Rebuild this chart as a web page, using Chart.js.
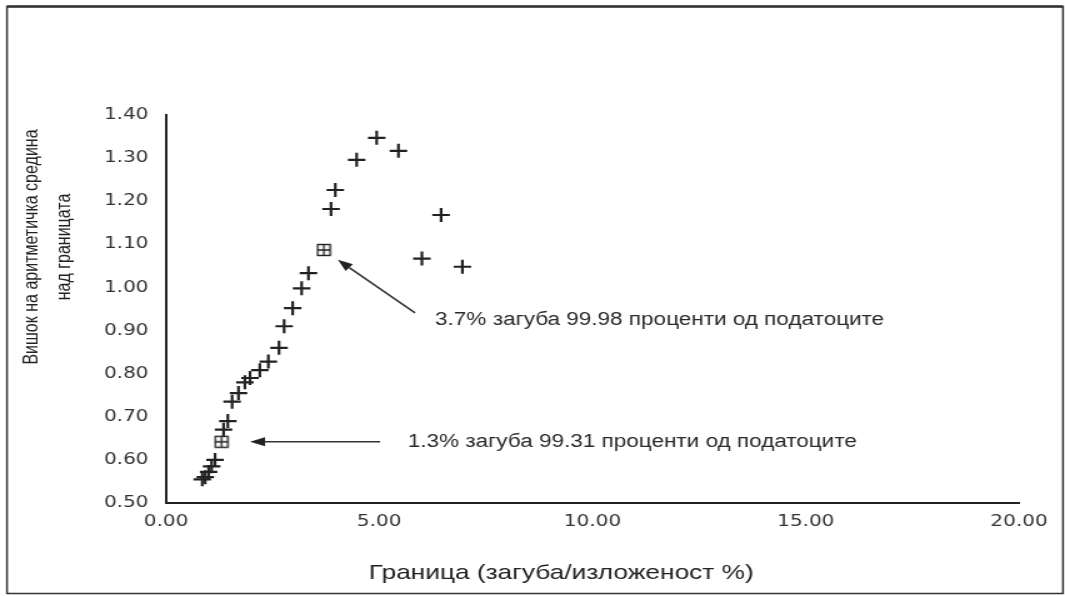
<!DOCTYPE html>
<html>
<head>
<meta charset="utf-8">
<script src="https://cdn.jsdelivr.net/npm/chart.js@4/dist/chart.umd.min.js"></script>
<style>
  html, body { margin: 0; padding: 0; background: #fff; overflow: hidden; }
  #wrap { width: 1065px; height: 596px; position: relative; overflow: hidden; }
  /* the figure is laid out on a narrower canvas and widened to the page */
  #c { position: absolute; left: 0; top: 0; transform-origin: 0 0; transform: scaleX(1.25); }
</style>
</head>
<body>
<div id="wrap"><canvas id="c" width="852" height="596"></canvas></div>
<script>
// Threshold (loss/exposure %) against mean excess over the threshold
const lossPct    = [0.85, 0.92, 1.00, 1.07, 1.15, 1.35, 1.45, 1.55, 1.70, 1.85, 1.97, 2.20, 2.40,
                    2.65, 2.77, 2.97, 3.18, 3.34, 3.87, 3.97, 4.47, 4.94, 5.45, 6.00, 6.45, 6.95];
const meanExcess = [0.555, 0.560, 0.572, 0.585, 0.600, 0.670, 0.690, 0.735, 0.755, 0.780, 0.790, 0.808, 0.828,
                    0.860, 0.910, 0.952, 0.998, 1.033, 1.182, 1.226, 1.296, 1.347, 1.317, 1.067, 1.168, 1.048];

// Highlighted thresholds
const markedLoss   = [1.3, 3.7];
const markedExcess = [0.642, 1.087];

// Callout notes and their arrows (in data units)
const noteLabels = ['1.3% загуба 99.31 проценти од податоците', '3.7% загуба 99.98 проценти од податоците'];
const noteX      = [5.67, 6.31];
const noteY      = [0.642, 0.924];
const arrowTailX = [5.02, 5.84];
const arrowTailY = [0.642, 0.941];
const arrowHeadX = [1.97, 4.03];
const arrowHeadY = [0.642, 1.064];

// Axis ticks and titles
const xTicks = [0, 5, 10, 15, 20];
const yTicks = [0.5, 0.6, 0.7, 0.8, 0.9, 1.0, 1.1, 1.2, 1.3, 1.4];
const xTitle = 'Граница (загуба/изложеност %)';
const yTitleLines = ['Вишок на аритметичка средина', 'над границата'];

const INK = '#222';

// boxed marker for the highlighted thresholds
function boxMarker() {
  const cv = document.createElement('canvas');
  cv.width = 13; cv.height = 14;
  const g = cv.getContext('2d');
  g.strokeStyle = INK; g.lineWidth = 1.4;
  g.strokeRect(1.5, 1.5, 10, 11);
  g.beginPath();
  g.moveTo(1.5, 7); g.lineTo(11.5, 7);
  g.moveTo(6.5, 1.5); g.lineTo(6.5, 12.5);
  g.stroke();
  return cv;
}

const decorations = {
  id: 'decorations',
  beforeDraw(chart) {
    const ctx = chart.ctx;
    ctx.save();
    ctx.fillStyle = '#fff';
    ctx.fillRect(0, 0, chart.width, chart.height);
    ctx.strokeStyle = '#333';
    ctx.lineWidth = 1.5;
    ctx.strokeRect(5.6, 6.5, 844.8, 587);
    ctx.lineWidth = 2.5;
    ctx.beginPath(); ctx.moveTo(5.6, 6.5); ctx.lineTo(850.4, 6.5); ctx.stroke();
    ctx.restore();
  },
  afterDraw(chart) {
    const ctx = chart.ctx;
    const xs = chart.scales.x, ys = chart.scales.y;
    ctx.save();
    // arrows
    ctx.strokeStyle = '#333';
    ctx.fillStyle = '#222';
    ctx.lineWidth = 1.5;
    for (let i = 0; i < arrowTailX.length; i++) {
      const x1 = xs.getPixelForValue(arrowTailX[i]), y1 = ys.getPixelForValue(arrowTailY[i]);
      const x2 = xs.getPixelForValue(arrowHeadX[i]), y2 = ys.getPixelForValue(arrowHeadY[i]);
      const a = Math.atan2(y2 - y1, x2 - x1);
      const L = 12, W = 4.5;
      const bx = x2 - L * Math.cos(a), by = y2 - L * Math.sin(a);
      ctx.beginPath(); ctx.moveTo(x1, y1); ctx.lineTo(bx, by); ctx.stroke();
      ctx.beginPath();
      ctx.moveTo(x2, y2);
      ctx.lineTo(bx + W * Math.sin(a), by - W * Math.cos(a));
      ctx.lineTo(bx - W * Math.sin(a), by + W * Math.cos(a));
      ctx.closePath(); ctx.fill();
    }
    // notes
    ctx.fillStyle = '#2a2a2a';
    ctx.font = '18px "Liberation Sans"';
    ctx.textAlign = 'left';
    ctx.textBaseline = 'middle';
    for (let i = 0; i < noteLabels.length; i++) {
      ctx.fillText(noteLabels[i], xs.getPixelForValue(noteX[i]), ys.getPixelForValue(noteY[i]));
    }
    // x-axis title
    ctx.fillStyle = '#222';
    ctx.font = '21px "Liberation Sans"';
    ctx.textAlign = 'center';
    ctx.fillText(xTitle, 449, 573);
    // y-axis title, two lines
    ctx.font = '16px "Liberation Sans"';
    const cy = 247;
    const cx = [25.5, 52];
    for (let i = 0; i < yTitleLines.length; i++) {
      ctx.save();
      ctx.translate(cx[i], cy);
      ctx.rotate(-Math.PI / 2);
      ctx.fillText(yTitleLines[i], 0, 0);
      ctx.restore();
    }
    ctx.restore();
  }
};

new Chart(document.getElementById('c'), {
  type: 'scatter',
  data: {
    datasets: [
      {
        data: lossPct.map((x, i) => ({ x, y: meanExcess[i] })),
        pointStyle: 'cross',
        pointRadius: 7,
        pointHoverRadius: 7,
        borderColor: INK,
        borderWidth: 2.2,
        backgroundColor: INK
      },
      {
        data: markedLoss.map((x, i) => ({ x, y: markedExcess[i] })),
        pointStyle: boxMarker(),
        pointRadius: 7,
        borderColor: INK,
        backgroundColor: INK
      }
    ]
  },
  options: {
    responsive: false,
    animation: false,
    devicePixelRatio: 1,
    layout: { padding: { top: 115, right: 36.8, left: 0, bottom: 0 } },
    plugins: {
      legend: { display: false },
      tooltip: { enabled: false },
      title: { display: false }
    },
    scales: {
      x: {
        type: 'linear',
        min: xTicks[0],
        max: xTicks[xTicks.length - 1],
        afterBuildTicks: s => { s.ticks = xTicks.map(v => ({ value: v })); },
        afterFit: s => { s.height = 93; },
        grid: { display: false, drawOnChartArea: false, drawTicks: true, tickLength: 6, tickColor: '#333', tickWidth: 1.5 },
        border: { display: true, color: '#222', width: 2 },
        ticks: {
          color: '#333',
          padding: 3,
          maxRotation: 0,
          font: { family: 'DejaVu Sans', size: 16 },
          callback: v => Number(v).toFixed(2)
        },
        title: { display: false }
      },
      y: {
        type: 'linear',
        min: yTicks[0],
        max: yTicks[yTicks.length - 1],
        afterBuildTicks: s => { s.ticks = yTicks.map(v => ({ value: v })); },
        afterFit: s => { s.width = 132.8; },
        grid: { display: false, drawOnChartArea: false, drawTicks: true, tickLength: 5, tickColor: '#333', tickWidth: 1.5 },
        border: { display: true, color: '#222', width: 2 },
        ticks: {
          color: '#333',
          padding: 9,
          font: { family: 'DejaVu Sans', size: 16 },
          callback: v => Number(v).toFixed(2)
        },
        title: { display: false }
      }
    }
  },
  plugins: [decorations]
});
</script>
</body>
</html>
